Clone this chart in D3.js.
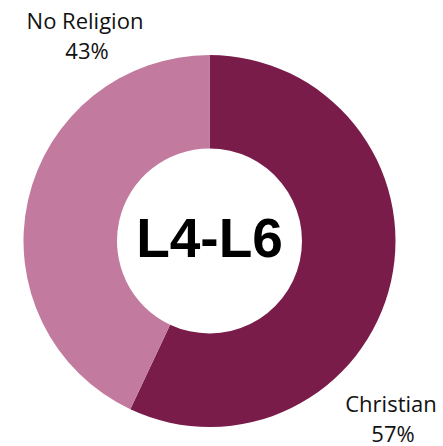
<!DOCTYPE html>
<html>
<head>
<meta charset="utf-8">
<script src="https://cdn.jsdelivr.net/npm/d3@7"></script>
<style>
  html, body { margin: 0; padding: 0; background: #fff; }
  svg { display: block; }
</style>
</head>
<body>
<svg id="chart" width="443" height="446"></svg>
<script>
// Religion split for the L4-L6 group
const categories = ["Christian", "No Religion"];
const values = [57, 43];
const colors = ["#7A1C49", "#C27A9E"];
const centerLabel = "L4-L6";

const svg = d3.select("#chart");
const cx = 209.5, cy = 241;
const outerR = 186, innerR = 92.5;

const pie = d3.pie().sort(null).value(d => d.value);
const arcs = pie(categories.map((c, i) => ({ name: c, value: values[i] })));
const arc = d3.arc().innerRadius(innerR).outerRadius(outerR);
const color = d3.scaleOrdinal().domain(categories).range(colors);

const g = svg.append("g").attr("transform", `translate(${cx},${cy})`);
g.selectAll("path")
  .data(arcs)
  .join("path")
  .attr("d", arc)
  .attr("fill", d => color(d.data.name));

g.append("text")
  .attr("text-anchor", "middle")
  .attr("y", 16)
  .style("font-family", "'Liberation Sans', Arial, sans-serif")
  .style("font-weight", "bold")
  .style("font-size", "55px")
  .attr("fill", "#000")
  .text(centerLabel);

// Outside labels: name on one line, percent beneath
const labelPos = {
  "Christian": { x: 391, y: 412 },
  "No Religion": { x: 85, y: 29 }
};
const lab = svg.selectAll("g.lab")
  .data(arcs)
  .join("g")
  .attr("class", "lab")
  .style("font-family", "'Open Sans', 'Noto Sans', sans-serif")
  .style("font-size", "22px")
  .attr("fill", "#111");
lab.append("text")
  .attr("text-anchor", "middle")
  .attr("x", d => labelPos[d.data.name].x)
  .attr("y", d => labelPos[d.data.name].y)
  .text(d => d.data.name);
lab.append("text")
  .attr("text-anchor", "middle")
  .attr("x", d => labelPos[d.data.name].x + 2)
  .attr("y", d => labelPos[d.data.name].y + 30)
  .text(d => d.data.value + "%");
</script>
</body>
</html>
